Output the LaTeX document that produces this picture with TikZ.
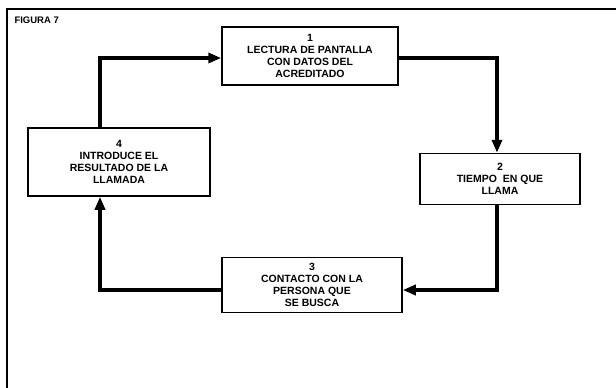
\documentclass[tikz,border=0pt]{standalone}
\usepackage{fontspec}
\setmainfont{Liberation Sans}
\usetikzlibrary{arrows.meta}
\begin{document}
\begin{tikzpicture}[x=1pt,y=-1pt,
  stepbox/.style={draw, line width=1.5pt, minimum width=#1, align=center, inner sep=0pt,
    font=\fontsize{10.5}{11.8}\selectfont\bfseries},
  link/.style={line width=3.2pt, -{Triangle[length=13pt,width=10pt]}},
  frameline/.style={line width=1.6pt}]
\useasboundingbox (0,0) rectangle (616,388);
\coordinate (ftl) at (7,9);
\coordinate (ftr) at (616,9);
\coordinate (fbl) at (7,388);
\draw[frameline] (ftr) -- (ftl) -- (fbl);
\node[anchor=west, font=\fontsize{9.5}{10}\selectfont\bfseries] (title) at (11,20) {FIGURA 7};
\node[stepbox=176pt, minimum height=58pt] (b1) at (310,56) {1\\LECTURA DE PANTALLA\\CON DATOS DEL\\ACREDITADO};
\node[stepbox=160pt, minimum height=51pt] (b2) at (500,179) {2\\TIEMPO~ EN QUE\\LLAMA};
\node[stepbox=180pt, minimum height=55pt] (b3) at (312,285) {3\\CONTACTO CON LA\\PERSONA QUE\\SE BUSCA};
\node[stepbox=182pt, minimum height=68pt] (b4) at (119,162) {4\\INTRODUCE EL\\RESULTADO DE LA\\LLAMADA};
\coordinate (c12) at (497,58);
\coordinate (c23) at (497,290);
\coordinate (c34) at (100,290);
\coordinate (c41) at (100,58);
\draw[link] (b1.east |- c12) -- (c12) -- (c12 |- b2.north);
\draw[link] (c23 |- b2.south) -- (c23) -- (b3.east |- c23);
\draw[link] (b3.west |- c34) -- (c34) -- (c34 |- b4.south);
\draw[link] (c41 |- b4.north) -- (c41) -- (b1.west |- c41);
\end{tikzpicture}
\end{document}
